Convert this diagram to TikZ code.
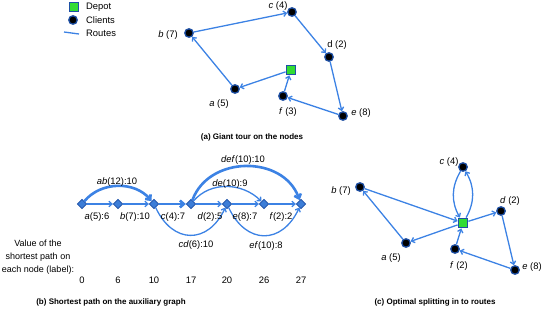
\documentclass[tikz,border=0pt]{standalone}
\usepackage{fontspec}
\setmainfont{Liberation Sans}
\usetikzlibrary{arrows.meta,shapes.geometric}
\definecolor{lineblue}{RGB}{60,130,228}
\definecolor{edgeblue}{RGB}{30,80,165}
\definecolor{depotgreen}{RGB}{50,220,50}
\definecolor{diafill}{RGB}{60,125,215}
\begin{document}
\begin{tikzpicture}[x=1pt,y=-1pt,
  client/.style={circle,fill=black,draw=edgeblue,line width=1.3pt,minimum size=8.5pt,inner sep=0pt},
  depot/.style={rectangle,fill=depotgreen,draw=edgeblue,line width=1.3pt,minimum size=9.5pt,inner sep=0pt},
  dia/.style={diamond,fill=diafill,draw=edgeblue,line width=0.8pt,minimum size=9.5pt,inner sep=0pt},
  route/.style={draw=lineblue,line width=1.3pt,-{Straight Barb[length=3pt,width=5.5pt]}},
  thickroute/.style={draw=lineblue,line width=2.6pt,-{Straight Barb[length=4pt,width=7pt]}},
  lbl/.style={font=\fontsize{9.4}{11}\selectfont,inner sep=0pt},
  captxt/.style={font=\fontsize{8}{10}\selectfont\bfseries,inner sep=0pt},
]
\useasboundingbox (0,0) rectangle (544,310);

% legend
\node[depot] (lgdep) at (74,7) {};
\node[lbl,anchor=west] (lgdept) at (86,7) {Depot};
\node[client] (lgcl) at (73,20) {};
\node[lbl,anchor=west] (lgclt) at (86,20) {Clients};
\coordinate (lgr1) at (64,32);
\coordinate (lgr2) at (79,34);
\draw[draw=lineblue,line width=1.3pt] (lgr1) -- (lgr2);
\node[lbl,anchor=west] (lgrt) at (86,33) {Routes};

% (a)
\node[client] (ac) at (292,12) {};
\node[client] (ab) at (189,33) {};
\node[client] (ad) at (329,57) {};
\node[depot] (adep) at (291,70) {};
\node[client] (aa) at (235,89) {};
\node[client] (af) at (283,96) {};
\node[client] (ae) at (343,116) {};
\node[lbl] (acl) at (278,6) {\textit{c} (4)};
\node[lbl] (abl) at (168,35) {\textit{b} (7)};
\node[lbl] (adl) at (337,45) {d (2)};
\node[lbl] (aal) at (219,104) {\textit{a} (5)};
\node[lbl] (afl) at (288,112) {\textit{f} (3)};
\node[lbl] (ael) at (361,113) {\textit{e} (8)};
\draw[route] (adep) -- (aa);
\draw[route] (aa) -- (ab);
\draw[route] (ab) -- (ac);
\draw[route] (ac) -- (ad);
\draw[route] (ad) -- (ae);
\draw[route] (ae) -- (af);
\draw[route] (af) -- (adep);
\node[captxt] (capa) at (252,137) {(a) Giant tour on the nodes};

% (b)
\node[dia] (b0) at (82,204) {};
\node[dia] (b1) at (118,204) {};
\node[dia] (b2) at (154,204) {};
\node[dia] (b3) at (191,204) {};
\node[dia] (b4) at (227,204) {};
\node[dia] (b5) at (264,204) {};
\node[dia] (b6) at (301,204) {};
\draw[route] (b0) -- (b1);
\draw[route] (b1) -- (b2);
\draw[thickroute] (b2) -- (b3);
\draw[route] (b3) -- (b4);
\draw[route] (b4) -- (b5);
\draw[route] (b5) -- (b6);
\draw[thickroute] (b0) to[out=50,in=130] (b2);
\draw[thickroute] (b3) to[out=70,in=110,looseness=1.15] (b6);
\draw[route] (b3) to[out=50,in=135] (b5);
\draw[route] (b2) to[out=-65,in=-115,looseness=1.5] (b4);
\draw[route] (b4) to[out=-65,in=-115,looseness=1.5] (b6);
\node[lbl] (l0) at (97,217) {\textit{a}(5):6};
\node[lbl] (l1) at (135,217) {\textit{b}(7):10};
\node[lbl] (l2) at (173,217) {\textit{c}(4):7};
\node[lbl] (l3) at (210,217) {\textit{d}(2):5};
\node[lbl] (l4) at (245,217) {\textit{e}(8):7};
\node[lbl] (l5) at (281,217) {\textit{f}(2):2};
\node[lbl] (lab) at (117,182) {\textit{ab}(12):10};
\node[lbl] (ldef) at (243,160) {\textit{def}(10):10};
\node[lbl] (lde) at (230,184) {\textit{de}(10):9};
\node[lbl] (lcd) at (196,245) {\textit{cd}(6):10};
\node[lbl] (lef) at (266,246) {\textit{ef}(10):8};
\node[lbl,align=center,font=\fontsize{9}{13}\selectfont] (vtxt) at (38,257) {Value of the\\shortest path on\\each node (label):};
\node[lbl] (v0) at (82,280) {0};
\node[lbl] (v1) at (118,280) {6};
\node[lbl] (v2) at (154,280) {10};
\node[lbl] (v3) at (191,280) {17};
\node[lbl] (v4) at (227,280) {20};
\node[lbl] (v5) at (264,280) {26};
\node[lbl] (v6) at (301,280) {27};
\node[captxt] (capb) at (111,302) {(b) Shortest path on the auxiliary graph};

% (c)
\node[client] (cc) at (463,167) {};
\node[client] (cb) at (360,187) {};
\node[depot] (cdep) at (463,223) {};
\node[client] (cd) at (501,211) {};
\node[client] (ca) at (406,243) {};
\node[client] (cf) at (455,249) {};
\node[client] (ce) at (515,270) {};
\node[lbl] (ccl) at (449,162) {\textit{c} (4)};
\node[lbl] (cbl) at (341,191) {\textit{b} (7)};
\node[lbl] (cdl) at (510,201) {\textit{d} (2)};
\node[lbl] (cal) at (391,258) {\textit{a} (5)};
\node[lbl] (cfl) at (459,266) {\textit{f} (2)};
\node[lbl] (cel) at (532,267) {\textit{e} (8)};
\draw[route] (cdep) -- (ca);
\draw[route] (ca) -- (cb);
\draw[route] (cb) -- (cdep);
\draw[route] (cdep) to[bend right=30] (cc);
\draw[route] (cc) to[bend right=30] (cdep);
\draw[route] (cdep) -- (cd);
\draw[route] (cd) -- (ce);
\draw[route] (ce) -- (cf);
\draw[route] (cf) -- (cdep);
\node[captxt] (capc) at (435,302) {(c) Optimal splitting in to routes};
\end{tikzpicture}
\end{document}
